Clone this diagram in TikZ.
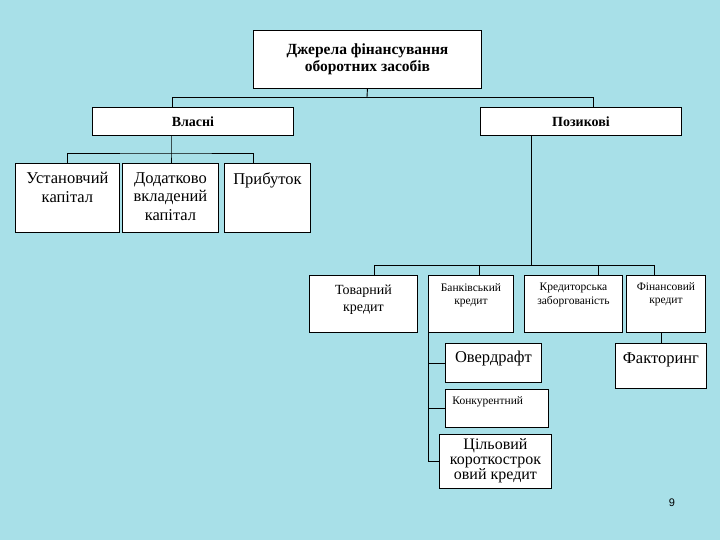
\documentclass[tikz,border=0pt]{standalone}
\usepackage{fontspec}
\setmainfont{Liberation Serif}
\newfontfamily\numfont{Liberation Sans}
\definecolor{aqua}{RGB}{168,224,232}

\begin{document}
\begin{tikzpicture}[x=1pt,y=-1pt,line width=0.9pt,
  box/.style={draw=black,fill=white,anchor=north west,inner sep=0pt,align=center},
  txt/.style={anchor=north,align=center,inner sep=0pt},
  big/.style={font=\fontsize{16.5}{18.5}\selectfont},
  mid/.style={font=\fontsize{14}{17}\selectfont},
  tiny/.style={font=\fontsize{11.5}{13.5}\selectfont}]
\fill[aqua] (0,0) rectangle (720,540);
\useasboundingbox (0,0) rectangle (720,540);
\node[box,minimum width=228pt,minimum height=58pt,font=\bfseries\fontsize{15.5}{17}\selectfont] (src) at (253,30) {Джерела фінансування\\оборотних засобів};
\node[box,minimum width=201pt,minimum height=28pt,font=\bfseries\fontsize{14}{15}\selectfont] (own) at (92,107) {Власні};
\node[box,minimum width=201pt,minimum height=28pt,font=\bfseries\fontsize{14}{15}\selectfont] (loan) at (480,107) {Позикові};
\node[box,minimum width=104pt,minimum height=69pt,label={[txt,big,yshift=-9pt]north:{Установчий\\капітал}}] (stat) at (15,163) {};
\node[box,minimum width=96pt,minimum height=69pt,label={[txt,big,yshift=-9pt]north:{Додатково\\вкладений\\капітал}}] (add) at (122,163) {};
\node[box,minimum width=86pt,minimum height=69pt,label={[txt,big,yshift=-9pt]north:{Прибуток}}] (profit) at (224,163) {};
\node[box,minimum width=108pt,minimum height=57pt,label={[txt,mid,yshift=-9pt]north:{Товарний\\кредит}}] (goods) at (309,275) {};
\node[box,minimum width=85pt,minimum height=57pt,label={[txt,tiny,yshift=-8pt]north:{Банківський\\кредит}}] (bank) at (428,275) {};
\node[box,minimum width=98pt,minimum height=57pt,label={[txt,tiny,yshift=-8pt]north:{Кредиторська\\заборгованість}}] (cred) at (524,275) {};
\node[box,minimum width=79pt,minimum height=57pt,label={[txt,tiny,yshift=-7pt]north:{Фінансовий\\кредит}}] (fin) at (626,275) {};
\node[box,minimum width=96pt,minimum height=39pt,label={[txt,big,yshift=-8pt]north:{Овердрафт}}] (over) at (445,343) {};
\node[box,minimum width=91pt,minimum height=45pt,label={[txt,big,yshift=-9pt]north:{Факторинг}}] (fact) at (615,343) {};
\node[box,minimum width=103pt,minimum height=38pt,label={[txt,tiny,anchor=north west,yshift=-7pt,xshift=7pt]north west:{Конкурентний}}] (comp) at (445,389) {};
\node[box,minimum width=112pt,minimum height=54pt,label={[txt,font=\fontsize{16}{15}\selectfont,yshift=-4pt]north:{Цільовий\\короткострок\\овий кредит}}] (goal) at (439,434) {};
\node[font=\numfont\fontsize{11}{13}\selectfont] (page) at (672,503) {9};
\coordinate (j1) at (367,97);
\coordinate (o1) at (172,97);
\coordinate (l1) at (593,97);
\draw (src.south) -- (j1);
\draw (o1 |- own.north) -- (o1) -- (l1) -- (l1 |- loan.north);
\coordinate (j2) at (171,153);
\coordinate (p2) at (253,153);
\draw (j2 |- own.south) -- (j2) -- (j2 |- add.north);
\draw (stat.north) |- (j2) -- (p2) -- (p2 |- profit.north);
\coordinate (j3) at (531,265);
\coordinate (g3) at (374,265);
\coordinate (b3) at (479,265);
\coordinate (c3) at (598,265);
\coordinate (f3) at (654,265);
\draw (j3 |- loan.south) -- (j3);
\draw (g3 |- goods.north) -- (g3) -- (f3) -- (f3 |- fin.north);
\draw (b3) -- (b3 |- bank.north);
\draw (c3) -- (c3 |- cred.north);
\draw (fin.south -| fact.north) -- (fact.north);
\draw (bank.south west) |- (goal.west);
\draw (bank.south west |- over.west) -- (over.west);
\draw (bank.south west |- comp.west) -- (comp.west);
\end{tikzpicture}
\end{document}
